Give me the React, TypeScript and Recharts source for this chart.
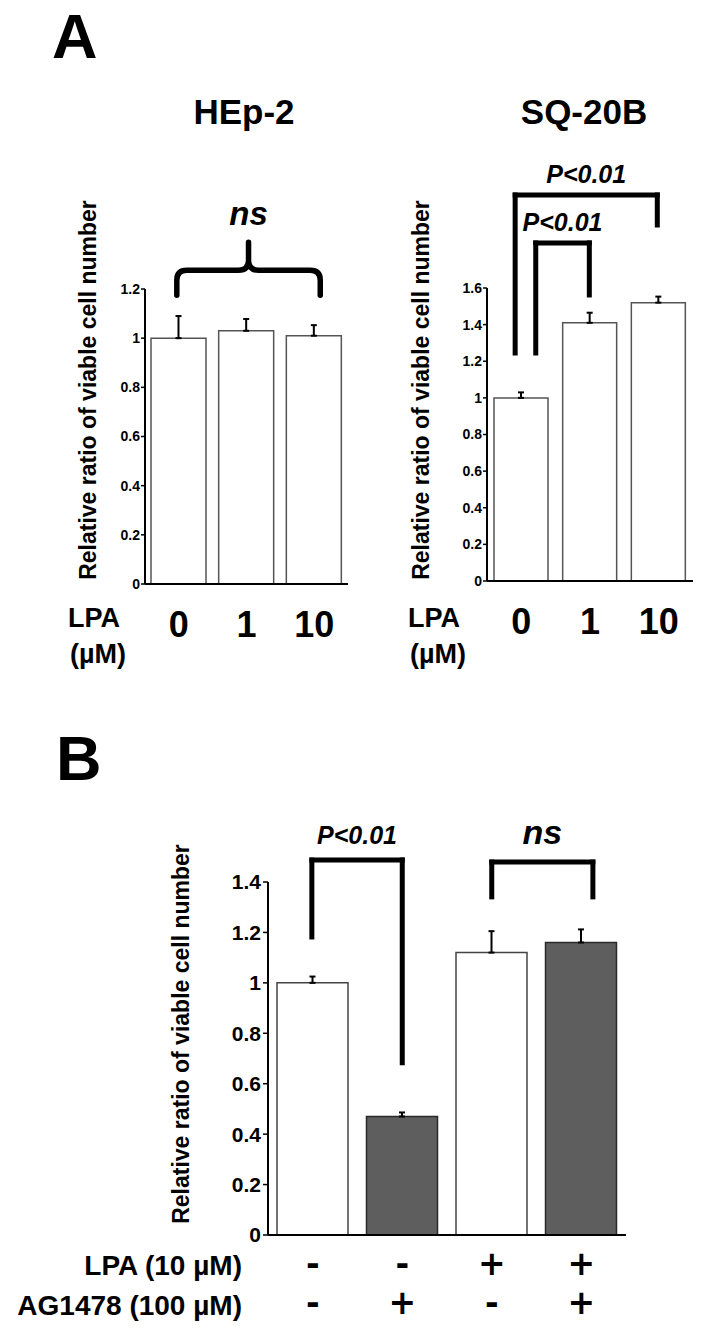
import React from 'react';
import { BarChart, Bar, XAxis, YAxis, ErrorBar, Cell, ReferenceLine } from 'recharts';

const FONT = '"Liberation Sans", Arial, Helvetica, sans-serif';
const SIGN_FONT = '"DejaVu Sans", "Liberation Sans", sans-serif';

// ---------- Panel A : HEp-2 ----------
const hepCategories = ['0', '1', '10'];
const hepValues = [1.0, 1.03, 1.01];
const hepErrors = [0.09, 0.048, 0.043];
const hepTicks = [0, 0.2, 0.4, 0.6, 0.8, 1, 1.2];
// curly brace: from (left, legBottom) to (right, peakTop) in data units
const hepBrace = { x1: 0.47, x2: 2.59, bottom: 1.175, peak: 1.39, label: 'ns' };

// ---------- Panel A : SQ-20B ----------
const sqCategories = ['0', '1', '10'];
const sqValues = [1.0, 1.41, 1.52];
const sqErrors = [0.03, 0.055, 0.033];
const sqTicks = [0, 0.2, 0.4, 0.6, 0.8, 1, 1.2, 1.4, 1.6];
const sqBrackets = [
  { x1: 0.41, x2: 2.48, top: 2.108, left: 1.245, right: 1.944, label: 'P<0.01' },
  { x1: 0.71, x2: 1.49, top: 1.846, left: 1.245, right: 1.562, label: 'P<0.01' },
];

// ---------- Panel B ----------
const bCategories = ['Control', 'AG1478', 'LPA', 'LPA+AG1478'];
const bValues = [1.0, 0.47, 1.12, 1.16];
const bErrors = [0.025, 0.016, 0.085, 0.052];
const bLpaRow = ['-', '-', '+', '+'];
const bAgRow = ['-', '+', '-', '+'];
const bFills = ['#ffffff', '#5e5e5e', '#ffffff', '#5e5e5e'];
const bStrokes = ['#444444', '#2a2a2a', '#444444', '#2a2a2a'];
const bTicks = [0, 0.2, 0.4, 0.6, 0.8, 1, 1.2, 1.4];
const bBrackets = [
  { x1: 0.49, x2: 1.5, top: 1.487, left: 1.182, right: 0.683, label: 'P<0.01', size: 25, offset: 16 },
  { x1: 2.5, x2: 3.63, top: 1.479, left: 1.341, right: 1.341, label: 'ns', size: 34, offset: 18 },
];

const hepData = hepCategories.map((name, i) => ({ name, value: hepValues[i], err: [0, hepErrors[i]] }));
const sqData = sqCategories.map((name, i) => ({ name, value: sqValues[i], err: [0, sqErrors[i]] }));
const bData = bCategories.map((name, i) => ({ name, value: bValues[i], err: [0, bErrors[i]] }));

const BraceShape = (p: any) => {
  const { x1, y1, x2, y2 } = p;
  const yb = y1;
  const yp = y2;
  const ym = yb - (yb - yp) * 0.47;
  const r = 10;
  const xc = (x1 + x2) / 2;
  const d =
    `M ${x1} ${yb} L ${x1} ${ym + r} Q ${x1} ${ym} ${x1 + r} ${ym} L ${xc - r} ${ym} Q ${xc} ${ym} ${xc} ${ym - r} L ${xc} ${yp} ` +
    `M ${xc} ${ym - r} Q ${xc} ${ym} ${xc + r} ${ym} L ${x2 - r} ${ym} Q ${x2} ${ym} ${x2} ${ym + r} L ${x2} ${yb}`;
  return <path d={d} fill="none" stroke="#000" strokeWidth={5.5} strokeLinecap="round" strokeLinejoin="round" />;
};

const labelStyle = (value: string, size: number, offset: number) => ({
  value,
  position: 'top' as const,
  offset,
  fill: '#000',
  fontSize: size,
  fontWeight: 700,
  fontStyle: 'italic',
  fontFamily: FONT,
});

function bracketLines(b: any, key: string, size: number, offset: number) {
  const common = {
    xAxisId: 'num',
    ifOverflow: 'visible' as const,
    stroke: '#000',
    strokeWidth: 5,
    strokeLinecap: 'square' as const,
  };
  return [
    <ReferenceLine key={key + 'l'} {...common} segment={[{ x: b.x1, y: b.left }, { x: b.x1, y: b.top }]} />,
    <ReferenceLine
      key={key + 't'}
      {...common}
      segment={[{ x: b.x1, y: b.top }, { x: b.x2, y: b.top }]}
      label={labelStyle(b.label, size, offset)}
    />,
    <ReferenceLine key={key + 'r'} {...common} segment={[{ x: b.x2, y: b.top }, { x: b.x2, y: b.right }]} />,
  ];
}

const smallTick = { fontSize: 14, fontWeight: 700, fill: '#000', fontFamily: FONT };
const bigTickB = { fontSize: 21, fontWeight: 700, fill: '#000', fontFamily: FONT };

const doseTick = (props: any) => (
  <text x={props.x} y={props.y + 53} textAnchor="middle" fontSize={36} fontWeight={700} fontFamily={FONT} fill="#000">
    {props.payload.value}
  </text>
);

const signTick = (props: any) => {
  const i = props.index;
  const common = { textAnchor: 'middle' as const, fontSize: 33, fontWeight: 700, fontFamily: SIGN_FONT, fill: '#000' };
  return (
    <g>
      <text x={props.x} y={props.y + 40} {...common}>{bLpaRow[i]}</text>
      <text x={props.x} y={props.y + 79} {...common}>{bAgRow[i]}</text>
    </g>
  );
};

const axisLine = { stroke: '#000', strokeWidth: 2 };
const tickLine = { stroke: '#000', strokeWidth: 1.5 };

export default function App() {
  const txt = { fontFamily: FONT, fontWeight: 700, fill: '#000' } as const;
  return (
    <div style={{ position: 'absolute', left: 0, top: 0, width: 708, height: 1335, background: '#fff' }}>
      {/* Panel A – HEp-2 */}
      <div style={{ position: 'absolute', left: 0, top: 0 }}>
        <BarChart width={360} height={680} data={hepData} margin={{ top: 289, right: 12, bottom: 36, left: 0 }}>
          <XAxis xAxisId="cat" dataKey="name" height={60} tickLine={false} tickSize={0} tickMargin={0} axisLine={axisLine} tick={doseTick} interval={0} />
          <XAxis xAxisId="num" type="number" dataKey="pos" domain={[0, 3]} allowDataOverflow hide />
          <YAxis domain={[0, 1.2]} ticks={hepTicks} width={145} tickSize={4} tickMargin={1} axisLine={axisLine} tickLine={tickLine} tick={smallTick} interval={0} />
          <Bar xAxisId="cat" dataKey="value" fill="#fff" stroke="#555" strokeWidth={1.5} barSize={55} isAnimationActive={false}>
            <ErrorBar dataKey="err" width={3} stroke="#000" strokeWidth={2} isAnimationActive={false} />
          </Bar>
          <ReferenceLine
            xAxisId="num"
            ifOverflow="visible"
            segment={[{ x: hepBrace.x1, y: hepBrace.bottom }, { x: hepBrace.x2, y: hepBrace.peak }]}
            shape={BraceShape}
            label={labelStyle(hepBrace.label, 33, 17)}
          />
        </BarChart>
      </div>

      {/* Panel A – SQ-20B */}
      <div style={{ position: 'absolute', left: 360, top: 0 }}>
        <BarChart width={348} height={680} data={sqData} margin={{ top: 288, right: 15, bottom: 39, left: 0 }}>
          <XAxis xAxisId="cat" dataKey="name" height={60} tickLine={false} tickSize={0} tickMargin={0} axisLine={axisLine} tick={doseTick} interval={0} />
          <XAxis xAxisId="num" type="number" dataKey="pos" domain={[0, 3]} allowDataOverflow hide />
          <YAxis domain={[0, 1.6]} ticks={sqTicks} width={127} tickSize={4} tickMargin={1} axisLine={axisLine} tickLine={tickLine} tick={smallTick} interval={0} />
          <Bar xAxisId="cat" dataKey="value" fill="#fff" stroke="#555" strokeWidth={1.5} barSize={54} isAnimationActive={false}>
            <ErrorBar dataKey="err" width={3} stroke="#000" strokeWidth={2} isAnimationActive={false} />
          </Bar>
          {sqBrackets.map((b, i) => bracketLines(b, 'sq' + i, 25, 12))}
        </BarChart>
      </div>

      {/* Panel B */}
      <div style={{ position: 'absolute', left: 0, top: 700 }}>
        <BarChart width={708} height={635} data={bData} margin={{ top: 182, right: 82, bottom: 40, left: 0 }}>
          <XAxis xAxisId="cat" dataKey="name" height={60} tickLine={false} tickSize={0} tickMargin={0} axisLine={axisLine} tick={signTick} interval={0} />
          <XAxis xAxisId="num" type="number" dataKey="pos" domain={[0, 4]} allowDataOverflow hide />
          <YAxis domain={[0, 1.4]} ticks={bTicks} width={268} tickSize={5} tickMargin={2} axisLine={axisLine} tickLine={tickLine} tick={bigTickB} interval={0} />
          <Bar xAxisId="cat" dataKey="value" strokeWidth={1.5} barSize={71} isAnimationActive={false}>
            {bData.map((d, i) => (
              <Cell key={d.name} fill={bFills[i]} stroke={bStrokes[i]} />
            ))}
            <ErrorBar dataKey="err" width={3} stroke="#000" strokeWidth={2} isAnimationActive={false} />
          </Bar>
          {bBrackets.map((b, i) => bracketLines(b, 'b' + i, b.size, b.offset))}
        </BarChart>
      </div>

      {/* free text */}
      <svg width={708} height={1335} style={{ position: 'absolute', left: 0, top: 0, pointerEvents: 'none' }}>
        <text x={52} y={58} fontSize={63} {...txt}>A</text>
        <text x={244} y={124} fontSize={35} textAnchor="middle" {...txt}>HEp-2</text>
        <text x={584} y={124} fontSize={35} textAnchor="middle" {...txt}>SQ-20B</text>

        <text transform="translate(96,390) rotate(-90)" fontSize={23} textAnchor="middle" {...txt}>Relative ratio of viable cell number</text>
        <text transform="translate(429,390) rotate(-90)" fontSize={23} textAnchor="middle" {...txt}>Relative ratio of viable cell number</text>
        <text transform="translate(189,1034) rotate(-90)" fontSize={23} textAnchor="middle" {...txt}>Relative ratio of viable cell number</text>

        <text x={68} y={627} fontSize={27} {...txt}>LPA</text>
        <text x={70} y={663} fontSize={27} {...txt}>(µM)</text>
        <text x={408} y={627} fontSize={27} {...txt}>LPA</text>
        <text x={410} y={663} fontSize={27} {...txt}>(µM)</text>

        <text x={56} y={780} fontSize={63} {...txt}>B</text>

        <text x={242} y={1275} fontSize={28} textAnchor="end" {...txt}>LPA (10 µM)</text>
        <text x={242} y={1315} fontSize={28} textAnchor="end" {...txt}>AG1478 (100 µM)</text>
      </svg>
    </div>
  );
}
